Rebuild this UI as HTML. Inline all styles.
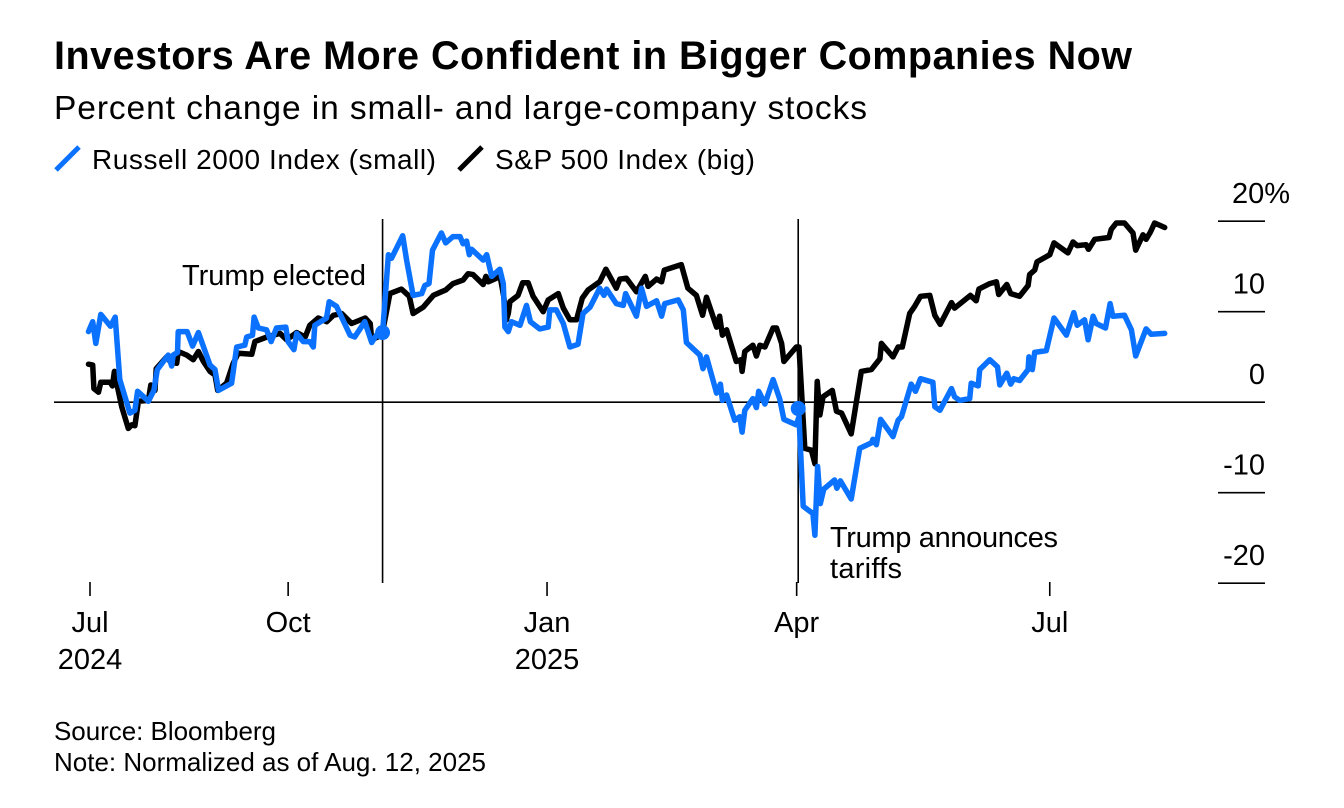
<!DOCTYPE html>
<html lang="en">
<head>
<meta charset="utf-8">
<title>Investors Are More Confident in Bigger Companies Now</title>
<style>
  html, body { margin: 0; padding: 0; background: #fff; }
  body { width: 1344px; height: 808px; overflow: hidden; }
  svg { display: block; font-family: "Liberation Sans", Arial, sans-serif; fill: #000; }
  .title { font-size: 39.5px; font-weight: 700; }
  .subtitle { font-size: 33.5px; }
  .legend { font-size: 28px; }
  .axis { font-size: 29px; }
  .note { font-size: 29px; }
  .source { font-size: 26px; }
</style>
</head>
<body>
<svg id="chart" xmlns="http://www.w3.org/2000/svg" width="1344" height="808" viewBox="0 0 1344 808">
  <text class="title" x="54" y="69" textLength="1078" lengthAdjust="spacing">Investors Are More Confident in Bigger Companies Now</text>
  <text class="subtitle" x="54" y="119" textLength="813" lengthAdjust="spacing">Percent change in small- and large-company stocks</text>

  <line x1="56" y1="170" x2="79" y2="147" stroke="#0a72ff" stroke-width="5"/>
  <text class="legend" x="92" y="169" textLength="344" lengthAdjust="spacing">Russell 2000 Index (small)</text>
  <line x1="459" y1="170" x2="482" y2="147" stroke="#000" stroke-width="5"/>
  <text class="legend" x="495" y="169" textLength="260" lengthAdjust="spacing">S&amp;P 500 Index (big)</text>

  <g id="grid"></g>
  <g id="xaxis"></g>
  <g id="events"></g>
  <g id="series"></g>

  <text class="note" x="182" y="285" textLength="184" lengthAdjust="spacing">Trump elected</text>
  <text class="note" x="830" y="547" textLength="228" lengthAdjust="spacing">Trump announces</text>
  <text class="note" x="830" y="578" textLength="72" lengthAdjust="spacing">tariffs</text>

  <text class="source" x="54" y="740" textLength="222" lengthAdjust="spacing">Source: Bloomberg</text>
  <text class="source" x="54" y="771" textLength="432" lengthAdjust="spacing">Note: Normalized as of Aug. 12, 2025</text>
</svg>

<script>
// Trading-session number (0 = Jul 1, 2024) and percent change.
const sp500Sessions = [-0.4,0.7,1.0,2.2,2.8,5.2,5.8,6.3,6.9,8.2,9.9,10.8,11.6,12.5,15.1,15.7,16.8,17.1,19.8,20.7,22.4,22.8,25.0,26.7,28.0,29.3,31.0,32.3,33.0,35.3,37.0,38.3,41.8,42.6,45.7,49.1,50.8,53.4,55.6,56.8,59.0,61.2,62.9,65.0,67.6,71.1,72.4,72.8,75.4,76.2,77.5,80.5,82.5,83.5,86.1,88.7,90.8,91.9,93.8,96.4,97.7,99.0,101.6,102.3,102.9,105.0,105.9,106.9,107.6,108.1,108.5,110.6,111.8,113.2,114.5,117.1,118.4,121.0,122.3,124.0,125.7,127.2,128.7,131.7,133.3,136.0,136.9,138.6,141.2,143.5,144.2,146.4,147.7,148.4,152.8,154.5,156.7,158.3,159.3,161.9,162.7,163.4,164.5,167.0,168.2,168.5,169.2,171.3,172.2,173.1,174.4,176.5,177.4,178.7,179.3,182.5,183.2,184.7,186.4,187.3,187.9,188.6,189.4,191.8,192.9,194.2,196.7,199.3,201.9,204.1,204.5,207.5,208.8,209.9,211.8,213.1,214.6,217.0,218.3,219.7,222.6,223.4,227.5,229.0,229.7,232.5,234.2,234.8,236.9,237.9,240.2,242.4,242.8,244.1,244.7,248.0,249.1,252.7,254.0,255.1,257.4,258.0,259.6,263.3,263.9,265.2,267.3,269.5,270.2,272.1,272.9,274.0,275.1,277.7];
const sp500Values = [4.2,4.1,1.5,1.1,2.2,2.2,1.8,3.4,2.1,-0.5,-2.9,-2.5,-2.6,0.1,0.2,1.9,1.3,3.7,5.0,4.5,4.3,5.6,5.2,4.7,5.6,4.5,3.4,3.0,1.3,2.1,4.3,5.4,5.3,6.7,7.2,7.6,6.9,7.7,7.2,8.5,9.3,8.9,9.6,9.8,8.7,9.3,8.7,6.9,7.4,9.1,12.0,12.5,11.7,9.8,10.5,11.8,12.2,12.4,13.1,13.5,14.2,14.1,13.0,13.9,13.3,13.7,14.1,11.7,9.1,9.8,11.1,11.8,13.2,13.2,11.7,10.0,11.3,12.0,10.4,9.1,9.1,11.5,12.4,13.3,14.7,12.6,13.6,13.7,12.2,13.9,12.8,13.6,13.3,14.6,15.2,12.6,11.8,9.6,11.6,8.3,9.5,7.4,8.0,4.5,4.7,3.4,5.6,6.3,5.1,6.3,6.1,8.2,8.2,6.5,4.5,6.1,6.1,-5.1,-5.3,-6.8,2.3,-1.4,0.6,1.3,-1.0,-1.2,-3.5,3.4,3.6,4.8,6.5,5.0,6.1,6.1,9.8,10.6,11.7,11.8,9.6,8.6,11.0,10.4,11.8,11.2,12.5,13.1,13.3,11.9,13.0,12.0,11.7,12.9,14.1,14.6,15.5,16.3,17.6,16.5,17.7,17.3,17.4,16.9,18.0,18.2,19.1,19.8,19.8,18.7,16.8,18.5,18.0,18.8,19.8,19.3];

const russellSessions = [-0.4,0.7,1.5,2.8,5.3,6.5,7.7,10.3,11.6,12.3,15.1,16.5,17.4,20.2,21.1,21.5,22.6,22.8,25.1,26.5,28.0,31.0,32.3,33.2,36.6,37.9,40.0,40.5,42.0,42.4,43.5,45.6,46.8,48.2,50.6,51.2,52.7,53.4,55.1,56.8,57.7,58.1,61.1,61.8,63.7,67.2,68.4,71.0,72.8,74.0,75.6,77.1,77.9,80.8,81.8,83.5,85.7,86.5,87.6,88.5,90.8,91.9,93.8,95.6,96.4,97.3,98.0,98.6,101.6,102.5,103.8,105.9,106.8,107.2,108.1,108.9,111.1,112.8,113.8,116.2,118.4,118.8,120.5,122.3,124.0,126.1,127.4,129.2,131.7,132.8,133.5,136.0,137.8,138.4,141.2,142.5,143.8,146.4,147.7,148.5,152.0,153.3,154.1,157.6,158.4,159.3,161.9,162.9,163.4,164.5,166.6,167.9,168.5,169.2,171.3,172.2,172.8,174.4,176.5,178.2,179.3,182.5,183.2,184.3,186.8,187.3,188.0,188.7,189.6,192.4,193.0,193.9,196.7,198.9,201.9,202.3,203.2,204.3,207.5,208.8,209.7,212.2,213.3,214.6,217.8,218.3,219.6,222.6,223.4,224.7,227.3,227.7,229.5,229.9,232.5,234.5,235.1,236.9,237.9,238.7,240.2,242.4,242.6,243.5,244.1,247.1,249.1,252.3,254.2,255.1,257.0,257.9,259.2,260.0,262.4,263.6,264.3,267.3,269.1,270.2,272.9,274.2,277.7];
const russellValues = [7.8,8.9,6.5,9.7,8.4,9.4,2.5,-1.2,-0.9,1.2,0.1,1.3,3.6,5.2,4.0,5.2,5.5,7.8,7.8,6.2,7.7,4.1,3.6,1.3,2.1,6.1,6.3,7.2,7.4,9.4,8.2,8.0,6.7,8.2,8.3,6.7,5.8,7.6,6.7,6.7,6.1,8.5,9.3,11.1,10.6,7.4,7.2,8.9,6.6,7.4,7.7,16.3,15.9,18.4,15.7,11.8,12.0,12.9,13.1,16.8,18.7,17.6,18.3,18.3,17.5,17.8,16.3,16.9,15.7,16.3,13.9,14.7,13.1,8.3,7.8,8.9,8.5,10.7,8.9,8.1,8.3,10.2,10.2,8.7,6.1,6.4,9.8,10.5,12.6,11.8,12.5,10.9,10.7,12.0,9.5,12.6,10.6,11.2,9.5,10.9,11.3,10.2,6.6,5.2,3.7,5.0,1.0,2.0,0.2,0.8,-2.0,-1.6,-3.3,-0.9,0.4,-0.6,1.2,-0.2,2.5,0.4,-1.9,-2.5,-1.6,-11.5,-12.3,-14.7,-7.1,-11.2,-9.6,-8.6,-9.5,-8.7,-10.7,-5.1,-4.5,-4.1,-4.7,-1.9,-3.8,-2.0,-1.6,2.0,1.2,2.6,2.2,-0.5,-0.9,1.5,0.6,0.2,0.4,2.1,1.8,3.6,4.7,3.9,1.9,3.2,2.0,2.6,2.4,3.6,5.0,3.6,5.5,5.7,9.3,7.4,9.9,8.5,9.1,6.9,9.5,8.7,8.2,10.9,9.5,9.6,8.0,5.1,8.1,7.5,7.6];

const xTickSessions = [0, 51.2, 118.1, 182.6, 248];
const xTickMonths = ["Jul", "Oct", "Jan", "Apr", "Jul"];
const xTickYears = ["2024", "", "2025", "", ""];
const yTickValues = [20, 10, 0, -10, -20];
const yTickLabels = ["20%", "10", "0", "-10", "-20"];
const eventSessions = [75.6, 183.0];
const eventValues = [7.7, -0.7];

const NS = "http://www.w3.org/2000/svg";
const BLUE = "#0a72ff";
const xOf = s => 90 + 3.87 * s;
const yOf = v => 402.2 - 9.05 * v;

function make(tag, attrs, parent, text) {
  const el = document.createElementNS(NS, tag);
  for (const k in attrs) el.setAttribute(k, attrs[k]);
  if (text !== undefined) el.textContent = text;
  parent.appendChild(el);
  return el;
}

const grid = document.getElementById("grid");
yTickValues.forEach((v, i) => {
  const y = yOf(v);
  const line = make("line", { x1: v === 0 ? 54 : 1218, x2: 1265, y1: y, y2: y, stroke: "#000", "stroke-width": 1.6 }, grid);
  
  
  const label = make("text", { class: "axis", x: 1265, y: y - 18, "text-anchor": "end" }, grid, yTickLabels[i]);
  
  
  if (i === 0) {
    label.setAttribute("x", 1290);
  }
});

const xaxis = document.getElementById("xaxis");
xTickSessions.forEach((s, i) => {
  const x = xOf(s);
  const tick = make("line", { x1: x, x2: x, y1: 582, y2: 596, stroke: "#000", "stroke-width": 1.6 }, xaxis);
  
  
  const month = make("text", { class: "axis", x: x, y: 632, "text-anchor": "middle" }, xaxis, xTickMonths[i]);
  
  
  if (xTickYears[i]) {
    const year = make("text", { class: "axis", x: x, y: 669, "text-anchor": "middle" }, xaxis, xTickYears[i]);
    
    
  }
});

const events = document.getElementById("events");
eventSessions.forEach(s => {
  const x = xOf(s);
  const rule = make("line", { x1: x, x2: x, y1: 219, y2: 583, stroke: "#000", "stroke-width": 1.6 }, events);
  
  
});

function points(sessions, values) {
  return sessions.map((s, i) => xOf(s).toFixed(1) + "," + yOf(values[i]).toFixed(1)).join(" ");
}

const series = document.getElementById("series");
const base = { fill: "none", "stroke-width": 5.5, "stroke-linejoin": "round", "stroke-linecap": "round" };
const spLine = make("polyline", Object.assign({ points: points(sp500Sessions, sp500Values), stroke: "#000" }, base), series);


const rutLine = make("polyline", Object.assign({ points: points(russellSessions, russellValues), stroke: BLUE }, base), series);



eventSessions.forEach((s, i) => {
  const dot = make("circle", { cx: xOf(s), cy: yOf(eventValues[i]), r: 7.5, fill: BLUE }, series);
  
  
});
</script>
</body>
</html>
